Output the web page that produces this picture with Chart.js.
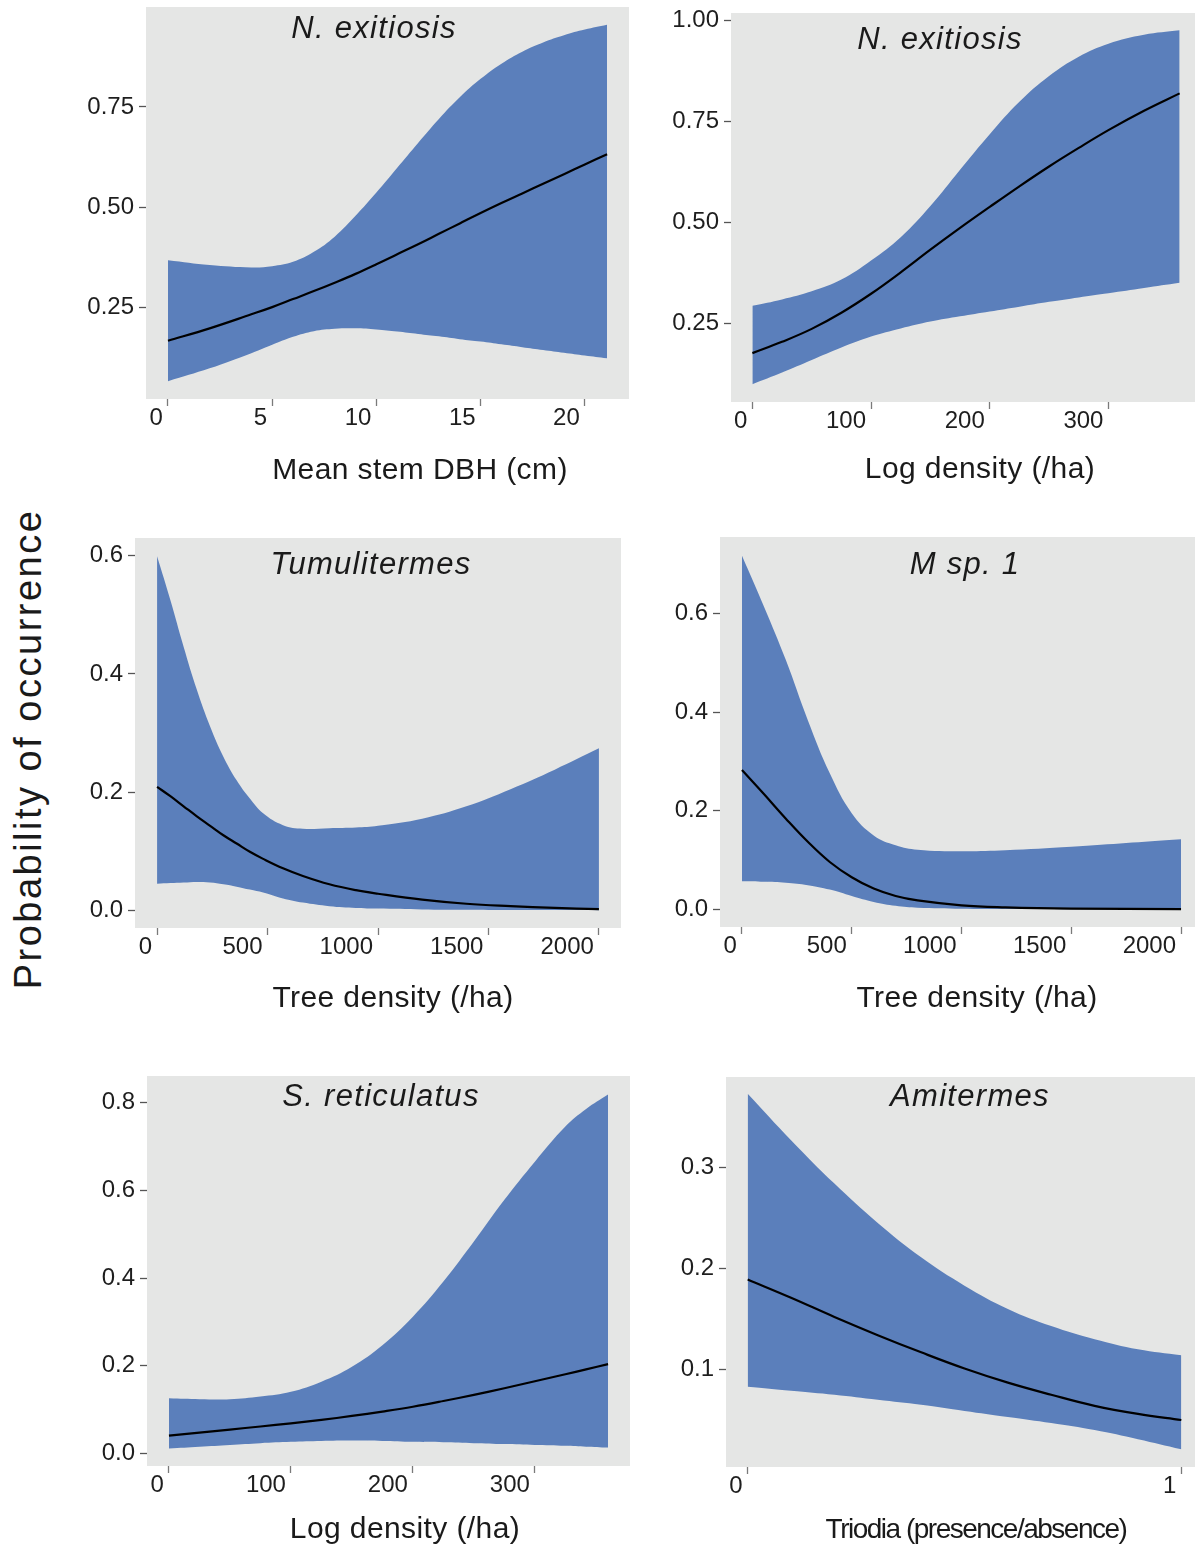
<!DOCTYPE html>
<html>
<head>
<meta charset="utf-8">
<script src="https://cdn.jsdelivr.net/npm/chart.js@4.4.1/dist/chart.umd.min.js"></script>
<style>
  html, body { margin: 0; padding: 0; background: #fff; overflow: hidden; }
  body { width: 1195px; height: 1546px; position: relative; }
  canvas { position: absolute; }
  #ylab {
    position: absolute; left: 28px; top: 749px;
    transform: translate(-50%, -50%) rotate(-90deg);
    font: 38px "Liberation Sans", Arial, sans-serif; letter-spacing: 2.5px;
    white-space: nowrap; color: #1a1a1a;
  }
</style>
</head>
<body>
<div id="ylab">Probability of occurrence</div>
<script>
// ---- data ----
// panel 1: N. exitiosis vs mean stem DBH
var dbhX     = [0, 2, 4, 5, 6, 7, 8, 9, 10, 11, 12, 13, 14, 15, 16, 17, 18, 19, 20, 21.07];
var dbhLower = [.065, .097, .135, .156, .176, .19, .196, .197, .194, .189, .183, .177, .170, .164, .157, .150, .143, .136, .129, .122];
var dbhFit   = [.166, .197, .232, .25, .27, .29, .311, .333, .357, .382, .407, .433, .459, .485, .51, .534, .558, .582, .606, .632];
var dbhUpper = [.367, .355, .349, .352, .363, .388, .426, .478, .536, .598, .66, .72, .774, .82, .858, .888, .911, .929, .943, .955];
var dbhTicks = [0, 5, 10, 15, 20];
var exiYTicks = [0.25, 0.5, 0.75];

// panel 2: N. exitiosis vs log density
var logX     = [0, 25, 50, 75, 100, 125, 150, 175, 200, 225, 250, 275, 300, 330, 360];
var logLower = [.099, .128, .159, .19, .217, .237, .254, .267, .279, .291, .303, .314, .324, .337, .350];
var logFit   = [.176, .204, .236, .276, .323, .376, .432, .486, .538, .589, .638, .684, .728, .776, .819];
var logUpper = [.293, .309, .329, .358, .405, .463, .540, .630, .718, .798, .862, .910, .942, .964, .975];
var logTicks = [0, 100, 200, 300];
var exi2YTicks = [0.25, 0.5, 0.75, 1.0];

// panel 3: Tumulitermes vs tree density
var tumX     = [0, 60, 120, 180, 240, 300, 360, 420, 480, 570, 660, 780, 900, 1000, 1200, 1400, 1600, 1800, 2000];
var tumLower = [.045, .046, .047, .048, .047, .044, .040, .035, .030, .020, .013, .007, .004, .003, .0015, .001, .0005, .0003, .0002];
var tumFit   = [.209, .193, .176, .159, .143, .127, .113, .099, .087, .071, .058, .044, .034, .028, .018, .011, .007, .004, .002];
var tumUpper = [.599, .525, .446, .373, .311, .26, .22, .189, .164, .144, .138, .139, .140, .143, .155, .176, .205, .238, .274];
var treeTicks = [0, 500, 1000, 1500, 2000];
var tumYTicks = [0, 0.2, 0.4, 0.6];

// panel 4: M sp. 1 vs tree density
var msX     = [0, 100, 200, 300, 400, 500, 600, 700, 800, 1000, 1200, 1500, 2000];
var msLower = [.057, .056, .054, .049, .040, .027, .015, .007, .003, .001, .0005, .0002, 0];
var msFit   = [.283, .234, .184, .137, .096, .065, .042, .027, .018, .008, .004, .0014, .0003];
var msUpper = [.718, .615, .506, .384, .276, .195, .150, .130, .121, .118, .120, .127, .142];
var msYTicks = [0, 0.2, 0.4, 0.6];

// panel 5: S. reticulatus vs log density
var retX     = [0, 25, 50, 75, 100, 125, 150, 175, 200, 225, 250, 275, 300, 325, 342, 360];
var retLower = [.012, .016, .020, .024, .027, .029, .030, .029, .027, .026, .024, .022, .020, .018, .016, .014];
var retFit   = [.041, .048, .055, .062, .069, .077, .086, .096, .107, .120, .134, .149, .165, .181, .192, .204];
var retUpper = [.126, .124, .124, .130, .141, .164, .198, .247, .312, .392, .483, .578, .665, .745, .785, .818];
var retYTicks = [0, 0.2, 0.4, 0.6, 0.8];

// panel 6: Amitermes vs Triodia
var triX     = [0, .1, .2, .3, .4, .5, .6, .7, .8, .9, 1];
var triLower = [.083, .079, .075, .070, .065, .059, .053, .047, .040, .031, .021];
var triFit   = [.189, .171, .152, .134, .117, .101, .087, .075, .064, .056, .050];
var triUpper = [.373, .327, .284, .245, .211, .183, .160, .143, .130, .120, .114];
var triTicks = [0, 1];
var amiYTicks = [0.1, 0.2, 0.3];

// ---- look ----
var FONT = '"Liberation Sans", Arial, Helvetica, sans-serif';
var BAND = '#5b7fbb';
var PANEL_BG = '#e5e6e5';
var YW = 90, PT = 20, PR = 2, XH = 100;

Chart.defaults.font.family = FONT;

var panels = [
  { box: [146, 7, 629, 399], x: dbhX, lower: dbhLower, fit: dbhFit, upper: dbhUpper,
    xMin: -1.054, xMax: 22.12, yMin: 0.0205, yMax: 0.9995, xTicks: dbhTicks, yTicks: exiYTicks, yDec: 2,
    title: 'N. exitiosis', titlePos: [374, 38], xTitle: 'Mean stem DBH (cm)', xTitlePos: [420, 479] },
  { box: [731, 13, 1201, 402], x: logX, lower: logLower, fit: logFit, upper: logUpper,
    xMin: -18, xMax: 378, yMin: 0.055, yMax: 1.018, xTicks: logTicks, yTicks: exi2YTicks, yDec: 2,
    title: 'N. exitiosis', titlePos: [940, 49], xTitle: 'Log density (/ha)', xTitlePos: [980, 478] },
  { box: [135, 538, 621, 928], x: tumX, lower: tumLower, fit: tumFit, upper: tumUpper,
    xMin: -100, xMax: 2100, yMin: -0.03, yMax: 0.63, xTicks: treeTicks, yTicks: tumYTicks, yDec: 1,
    title: 'Tumulitermes', titlePos: [371, 574], xTitle: 'Tree density (/ha)', xTitlePos: [393, 1007] },
  { box: [720, 537, 1203, 927], x: msX, lower: msLower, fit: msFit, upper: msUpper,
    xMin: -100, xMax: 2100, yMin: -0.036, yMax: 0.756, xTicks: treeTicks, yTicks: msYTicks, yDec: 1,
    title: 'M sp. 1', titlePos: [965, 574], xTitle: 'Tree density (/ha)', xTitlePos: [977, 1007] },
  { box: [147, 1076, 630, 1466], x: retX, lower: retLower, fit: retFit, upper: retUpper,
    xMin: -18, xMax: 378, yMin: -0.028, yMax: 0.86, xTicks: logTicks, yTicks: retYTicks, yDec: 1,
    title: 'S. reticulatus', titlePos: [381, 1106], xTitle: 'Log density (/ha)', xTitlePos: [405, 1538] },
  { box: [726, 1077, 1203, 1467], x: triX, lower: triLower, fit: triFit, upper: triUpper,
    xMin: -0.05, xMax: 1.05, yMin: 0.0035, yMax: 0.3895, xTicks: triTicks, yTicks: amiYTicks, yDec: 1,
    title: 'Amitermes', titlePos: [970, 1106], xTitle: 'Triodia (presence/absence)', xTitlePos: [976, 1538],
    xTitleSize: 28, xTitleSp: -1.5 }
];

function pts(xs, ys) {
  return xs.map(function(x, i) { return { x: x, y: ys[i] }; });
}

// grey panel background
var panelBg = {
  id: 'panelBg',
  beforeDraw: function(chart) {
    var a = chart.chartArea, ctx = chart.ctx;
    ctx.save();
    ctx.fillStyle = PANEL_BG;
    ctx.fillRect(a.left, a.top, a.right - a.left, a.bottom - a.top);
    ctx.restore();
  }
};

// species name inside the panel and the axis name under it
var panelText = {
  id: 'panelText',
  afterDraw: function(chart, args, o) {
    var ctx = chart.ctx;
    ctx.save();
    ctx.fillStyle = '#1a1a1a';
    ctx.textAlign = 'center';
    ctx.textBaseline = 'alphabetic';
    ctx.font = 'italic 31px ' + FONT;
    ctx.letterSpacing = '1.3px';
    ctx.fillText(o.title, o.titlePos[0] - o.left, o.titlePos[1] - o.top);
    ctx.font = (o.xTitleSize || 30) + 'px ' + FONT;
    ctx.letterSpacing = (o.xTitleSp == null ? 0.4 : o.xTitleSp) + 'px';
    ctx.fillText(o.xTitle, o.xTitlePos[0] - o.left, o.xTitlePos[1] - o.top);
    ctx.restore();
  }
};

function makePanel(p) {
  var left = p.box[0] - YW, top = p.box[1] - PT;
  var w = p.box[2] - p.box[0] + YW + PR, h = p.box[3] - p.box[1] + PT + XH;
  var cv = document.createElement('canvas');
  cv.width = w; cv.height = h;
  cv.style.left = left + 'px'; cv.style.top = top + 'px';
  cv.style.width = w + 'px'; cv.style.height = h + 'px';
  document.body.appendChild(cv);

  var tickFont = { family: FONT, size: 24 };
  var band = { borderColor: 'rgba(0,0,0,0)', borderWidth: 0, pointRadius: 0, tension: 0.4 };
  new Chart(cv, {
    type: 'line',
    data: {
      // fit first so it is drawn on top of the band
      datasets: [
        { data: pts(p.x, p.fit), borderColor: '#000', borderWidth: 2.2, pointRadius: 0, fill: false, tension: 0.4 },
        Object.assign({ data: pts(p.x, p.lower), fill: false }, band),
        Object.assign({ data: pts(p.x, p.upper), fill: '-1', backgroundColor: BAND }, band)
      ]
    },
    options: {
      responsive: false,
      animation: false,
      devicePixelRatio: 1,
      layout: { padding: { top: PT, right: PR, left: 0, bottom: 0 } },
      plugins: {
        legend: { display: false },
        tooltip: { enabled: false },
        panelText: { title: p.title, titlePos: p.titlePos, xTitle: p.xTitle, xTitlePos: p.xTitlePos,
                     xTitleSize: p.xTitleSize, xTitleSp: p.xTitleSp, left: left, top: top }
      },
      scales: {
        x: {
          type: 'linear', min: p.xMin, max: p.xMax,
          afterBuildTicks: function(s) { s.ticks = p.xTicks.map(function(v) { return { value: v }; }); },
          afterFit: function(s) { s.height = XH; },
          border: { display: false },
          grid: { drawOnChartArea: false, drawTicks: true, tickLength: 7, tickColor: '#7a7a7a', tickWidth: 1.3 },
          ticks: { align: 'end', labelOffset: -5, padding: -2, maxRotation: 0, autoSkip: false,
                   color: '#1e1e1e', font: tickFont,
                   callback: function(v) { return String(v); } }
        },
        y: {
          type: 'linear', min: p.yMin, max: p.yMax,
          afterBuildTicks: function(s) { s.ticks = p.yTicks.map(function(v) { return { value: v }; }); },
          afterFit: function(s) { s.width = YW; },
          border: { display: false },
          grid: { drawOnChartArea: false, drawTicks: true, tickLength: 7, tickColor: '#555', tickWidth: 1.3 },
          ticks: { padding: 5, autoSkip: false, color: '#1e1e1e', font: tickFont,
                   callback: function(v) { return v.toFixed(p.yDec); } }
        }
      }
    },
    plugins: [panelBg, panelText]
  });
}

panels.forEach(makePanel);
</script>
</body>
</html>
